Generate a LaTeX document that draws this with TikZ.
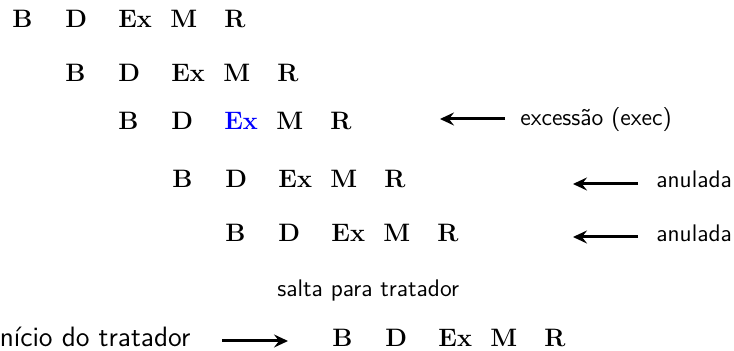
\documentclass[tikz,border=0pt]{standalone}
\usetikzlibrary{arrows.meta}
\begin{document}
\begin{tikzpicture}[x=0.5pt,y=-0.5pt,
  stage/.style={anchor=base west,inner sep=0pt,font=\fontsize{12.6}{15}\selectfont\bfseries},
  note/.style={inner sep=0pt,font=\fontsize{12}{14.4}\selectfont\sffamily},
  bignote/.style={note,font=\fontsize{14}{17}\selectfont\sffamily},
  arr/.style={line width=1.5pt,-{Stealth[length=7pt,width=6.5pt,inset=2.5pt]}}]
\useasboundingbox (0,0) rectangle (734,351);

% pipeline stages, one instruction per row, each starting one cycle later
\foreach \r/\x/\y in {1/12/28, 2/65/82, 3/118/130, 4/172/188, 5/225/242, 7/332/347}{
  \node[stage] (s\r b) at (\x,\y) {B};
  \node[stage] (s\r d) at (\x+53,\y) {D};
  \node[stage] (s\r e) at (\x+106,\y) {\ifnum\r=3 \color{blue}\fi Ex};
  \node[stage] (s\r m) at (\x+158,\y) {M};
  \node[stage] (s\r r) at (\x+212,\y) {R};
}

% annotations
\node[note,anchor=base west] (exc) at (520,126) {excessão (exec)};
\node[note,anchor=base west] (an1) at (656,188) {anulada};
\node[note,anchor=base west] (an2) at (656,242) {anulada};
\node[note,anchor=base west] (salta) at (277,297) {salta para tratador};
\node[bignote,anchor=base west] (inicio) at (-7,347) {início do tratador};

% arrows pointing at the affected instructions
\coordinate (excT) at (505,119);
\coordinate (excH) at (440,119);
\coordinate (an1T) at (638,184);
\coordinate (an1H) at (573,184);
\coordinate (an2T) at (638,237);
\coordinate (an2H) at (573,237);
\coordinate (iniT) at (222,341);
\coordinate (iniH) at (288,341);
\draw[arr] (excT) -- (excH);
\draw[arr] (an1T) -- (an1H);
\draw[arr] (an2T) -- (an2H);
\draw[arr] (iniT) -- (iniH);
\end{tikzpicture}
\end{document}
